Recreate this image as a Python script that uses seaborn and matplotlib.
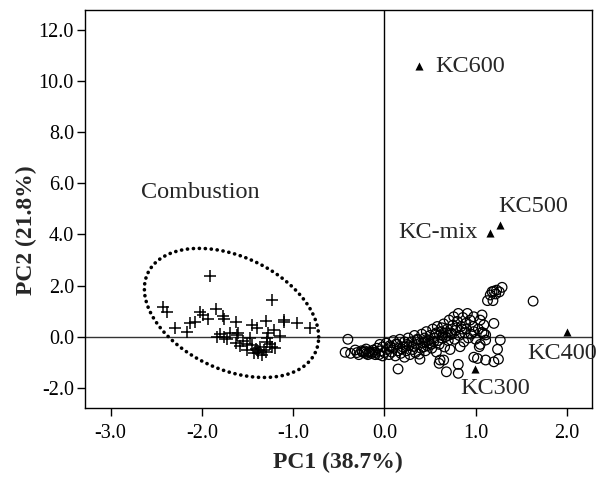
import numpy as np
import pandas as pd
import matplotlib
matplotlib.use("Agg")
import matplotlib.pyplot as plt
import seaborn as sns

# combustion samples (crosses)
comb_x = [-1.91, -2.43, -2.38, -1.23, -2.02, -1.99, -1.85, -2.07, -2.13, -1.93,
          -1.77, -1.76, -1.63, -2.29, -2.16, -1.30, -1.45, -1.40, -1.10, -1.10,
          -0.96, -0.81, -1.21, -1.27, -1.14, -1.29, -1.80, -1.69, -1.83, -1.72,
          -1.60, -1.63, -1.58, -1.51, -1.45, -1.41, -1.36, -1.32, -1.38, -1.34,
          -1.23, -1.29, -1.76, -1.43, -1.50, -1.38, -1.30, -1.25, -1.20, -1.55,
          -1.47, -1.62]
comb_y = [2.37, 1.17, 0.98, 1.43, 0.98, 0.85, 1.08, 0.59, 0.55, 0.68,
          0.81, 0.68, 0.59, 0.33, 0.20, 0.63, 0.46, 0.33, 0.65, 0.59,
          0.52, 0.35, 0.26, 0.13, 0.03, -0.06, 0.11, 0.13, -0.02, -0.10,
          0.16, -0.23, -0.36, -0.29, -0.32, -0.49, -0.41, -0.52, -0.62, -0.71,
          -0.41, -0.20, -0.02, -0.65, -0.52, -0.55, -0.60, -0.30, -0.45, -0.15,
          -0.05, 0.05]

# other samples (open circles)
other_x = [-0.40, -0.43, -0.37, -0.32, -0.28, -0.25, -0.22, -0.20, -0.18, -0.16,
           -0.14, -0.12, -0.10, -0.08, -0.06, -0.04, -0.02, 0.00, -0.24, -0.20,
           -0.17, -0.13, -0.22, -0.30, -0.10, -0.05, -0.02,
           0.02, 0.03, 0.05, 0.06, 0.08, 0.10, 0.10, 0.12, 0.14, 0.15,
           0.15, 0.17, 0.18, 0.20, 0.22, 0.22, 0.24, 0.26, 0.27, 0.28,
           0.30, 0.31, 0.33, 0.34, 0.35, 0.37, 0.38, 0.39, 0.40, 0.41,
           0.42, 0.44, 0.45, 0.46, 0.47, 0.48, 0.50,
           0.52, 0.53, 0.54, 0.56, 0.57, 0.58, 0.60, 0.60, 0.61, 0.62,
           0.63, 0.65, 0.66, 0.67, 0.68, 0.69, 0.70, 0.71, 0.72, 0.73,
           0.75, 0.76, 0.77, 0.78, 0.80, 0.81, 0.81, 0.82, 0.83, 0.84,
           0.86, 0.87, 0.88, 0.89, 0.90, 0.91, 0.92, 0.94, 0.95, 0.97,
           0.98, 0.98, 0.98, 1.00,
           1.02, 1.05, 1.07, 1.09, 1.09, 1.11, 1.11, 1.11, 1.20, 1.25,
           1.24, 1.27, 1.20, 1.03, 1.05, 1.04, 1.07, 0.81, 0.65,
           1.29, 1.23, 1.18, 1.22, 1.16, 1.13, 1.19, 1.20, 1.26,
           1.63,
           0.07, 0.13, 0.19, 0.25, 0.32, 0.36, 0.43, 0.49, 0.55, 0.59,
           0.64, 0.68, 0.74, 0.79, 0.85, 0.44, 0.51, 0.57, 0.63, 0.70]
other_y = [-0.10, -0.61, -0.65, -0.52, -0.70, -0.55, -0.62, -0.48, -0.70, -0.58,
           -0.66, -0.52, -0.62, -0.45, -0.70, -0.55, -0.40, -0.62, -0.60, -0.66,
           -0.62, -0.60, -0.55, -0.62, -0.70, -0.30, -0.75,
           -0.25, -0.50, -0.70, -0.35, -0.60, -0.15, -0.45, -0.75, -0.30, -0.55,
           -1.26, -0.10, -0.65, -0.40, -0.20, -0.80, -0.55, -0.05, -0.35, -0.70,
           -0.20, -0.50, 0.05, -0.62, -0.30, -0.12, -0.68, -0.88, -0.45, 0.10,
           -0.25, -0.05, -0.55, 0.20, -0.35, -0.15, 0.05,
           -0.45, 0.30, -0.20, 0.10, -0.60, 0.40, -1.04, -0.30, -0.91, 0.20,
           -0.05, 0.50, -0.40, 0.00, -1.37, 0.30, -0.15, 0.65, -0.50, 0.15,
           0.45, 0.78, -0.10, 0.25, 0.60, 0.91, -1.08, 0.05, -0.39, 0.40,
           0.75, -0.20, 0.15, 0.52, 0.30, 0.91, -0.05, 0.65, 0.10, 0.40,
           0.78, 0.20, -0.80, -0.10,
           -0.85, 0.65, 0.85, 0.46, 0.13, 0.07, -0.13, -0.91, -0.98, -0.88,
           -0.49, -0.13, 0.52, 0.30, -0.30, -0.39, 0.17, -1.43, -0.91,
           1.93, 1.82, 1.76, 1.67, 1.63, 1.41, 1.41, 1.78, 1.75,
           1.39,
           -0.40, -0.28, -0.48, -0.30, -0.38, -0.10, -0.40, -0.25, -0.05, -0.15,
           0.05, 0.15, 0.10, 0.35, 0.30, -0.20, -0.30, 0.15, 0.35, 0.05]

# biomass / coal samples (triangles)
kc_names = ["KC600", "KC500", "KC-mix", "KC400", "KC300"]
kc_x = [0.38, 1.27, 1.16, 2.00, 0.99]
kc_y = [10.56, 4.36, 4.06, 0.20, -1.26]

x_ticks = [-3.0, -2.0, -1.0, 0.0, 1.0, 2.0]
y_ticks = [-2.0, 0.0, 2.0, 4.0, 6.0, 8.0, 10.0, 12.0]

sns.set_theme(style="ticks")
plt.rcParams["font.family"] = ["Liberation Serif", "DejaVu Serif"]

fig = plt.figure(figsize=(5.99, 4.79), dpi=100)
ax = fig.add_axes([0.142, 0.149, 0.8455, 0.831])

ax.axhline(0, color="#333333", lw=1.0, zorder=1)
ax.axvline(0, color="black", lw=1.0, zorder=1)

sns.scatterplot(x=other_x, y=other_y, ax=ax, marker="o", s=48,
                facecolor="none", edgecolor="black", linewidth=0.9, zorder=3)
sns.scatterplot(x=comb_x, y=comb_y, ax=ax, marker="+", s=75,
                color="black", linewidth=1.1, zorder=3)
sns.scatterplot(x=kc_x, y=kc_y, ax=ax, marker="^", s=34,
                color="black", linewidth=0, zorder=4)

# label offsets (data units) for the triangle samples
label_dx = [0.18, -0.02, -0.14, -0.43, -0.16]
label_dy = [0.0, 0.72, 0.0, -0.84, -0.78]
label_ha = ["left", "left", "right", "left", "left"]
for name, x, y, dx, dy, ha in zip(kc_names, kc_x, kc_y, label_dx, label_dy, label_ha):
    ax.text(x + dx, y + dy, name, fontsize=17.5, ha=ha, va="center", clip_on=False)

ax.text(-2.67, 5.65, "Combustion", fontsize=17.5, ha="left", va="center")

# dotted ellipse around the combustion group
ell_c = (-1.675, 0.93)
ell_u = (0.955, -0.94)
ell_v = (0.0, 2.34)
t = np.linspace(0, 2 * np.pi, 300)
ax.plot(ell_c[0] + ell_u[0] * np.cos(t) + ell_v[0] * np.sin(t),
        ell_c[1] + ell_u[1] * np.cos(t) + ell_v[1] * np.sin(t),
        color="black", lw=2.6, linestyle=(0, (0.05, 1.6)),
        dash_capstyle="round", zorder=2)

ax.set_xlim(-3.28, 2.27)
ax.set_ylim(-2.77, 12.78)
ax.set_xticks(x_ticks)
ax.set_yticks(y_ticks)
ax.set_xticklabels([f"{v:.1f}" for v in x_ticks])
ax.set_yticklabels([f"{v:.1f}" for v in y_ticks])
ax.tick_params(direction="out", length=6, width=1, labelsize=14.5, color="black",
               labelcolor="black", top=False, right=False)
ax.tick_params(axis="x", pad=6)
ax.tick_params(axis="y", pad=2)
for sp in ax.spines.values():
    sp.set_visible(True)
    sp.set_color("black")
    sp.set_linewidth(1.0)

ax.set_xlabel("PC1 (38.7%)", fontsize=17, fontweight="bold", labelpad=6)
ax.set_ylabel("PC2 (21.8%)", fontsize=17, fontweight="bold", labelpad=6)
ax.yaxis.set_label_coords(-0.095, 0.445)

fig.savefig("out.png", dpi=100)
